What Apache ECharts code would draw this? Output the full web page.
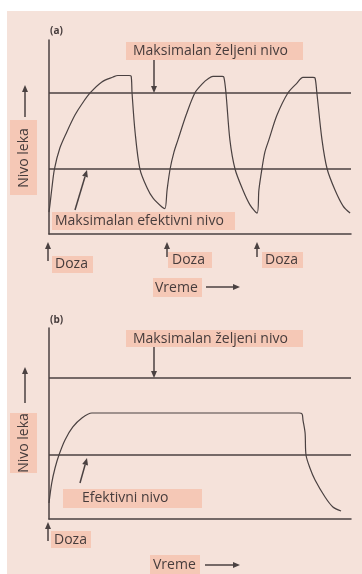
<!DOCTYPE html>
<html><head><meta charset="utf-8">
<script src="https://cdn.jsdelivr.net/npm/echarts@6/dist/echarts.min.js"></script>
<style>html,body{margin:0;padding:0;background:#fff}#c{width:362px;height:574px}</style>
</head><body><div id="c"></div>
<script>
// Panel (a): drug level with repeated doses (time and level in relative units 0-100)
const timeA = [0,0.3,1.0,1.8,3.6,5.9,8.6,10.9,13.6,17.5,21.2,22.8,26.5,27.2,
  27.5,28.5,30.1,32.5,34.4,37.4,38.4,
  39.1,40.1,41.4,42.7,45.4,48.3,51.0,52.6,54.3,57.3,57.9,
  58.6,59.9,61.6,64.2,66.6,68.9,
  69.5,70.5,71.5,72.8,75.5,79.1,82.1,84.1,87.4,88.1,
  88.7,90.4,92.1,94.7,97.4,99.7];
const levelA = [11.3,14.9,24.2,33.5,44.3,52.6,61.3,67.0,72.7,78.4,80.9,81.7,81.7,81.4,
  72.7,52.6,33.5,23.7,18.6,13.9,13.1,
  22.7,33.5,42.3,48.5,61.3,72.7,77.8,79.9,81.2,81.2,80.9,
  72.7,48.5,33.5,22.7,14.9,10.8,
  22.7,33.5,42.3,48.5,61.3,72.7,77.8,80.7,80.7,80.4,
  72.7,48.5,33.5,22.7,14.4,10.8];
// Panel (b): drug level with a single sustained dose
const timeB = [0,0.9,2.0,3.3,5.3,7.9,10.9,14.2,16.9,82.8,83.8,84.1,84.8,85.1,86.4,88.1,91.4,94.0,96.7];
const levelB = [8.4,18.8,26.7,33.5,41.4,48.2,52.9,55.5,55.5,55.5,55.0,51.8,45.0,33.5,26.7,20.4,11.5,6.3,4.2];
// Reference levels: [maximum desired, effective]
const refLevelsA = [72.7, 33.5];
const refLevelsB = [73.8, 33.5];

const BG = '#f5e2da', BOX = '#f5c8b6', INK = '#463c3c', LINE = '#4a4141';
const FONT = '"Open Sans", "DejaVu Sans", sans-serif';

function pairs(xs, ys) { return xs.map((x, i) => [x, ys[i]]); }

function box(x, y, w, h) {
  return { type: 'rect', shape: { x, y, width: w, height: h }, style: { fill: BOX }, z: 1 };
}
function label(text, x, y, size, align, weight) {
  return { type: 'text', x, y, z: 3,
    style: { text, fill: INK, font: (weight || 'normal') + ' ' + (size || 14) + 'px ' + FONT,
      align: align || 'left', verticalAlign: 'middle' } };
}
function arrow(x1, y1, x2, y2) {
  const a = Math.atan2(y2 - y1, x2 - x1), L = 7, W = 3;
  const bx = x2 - L * Math.cos(a), by = y2 - L * Math.sin(a);
  const px = -Math.sin(a) * W, py = Math.cos(a) * W;
  return [
    { type: 'line', z: 3, shape: { x1, y1, x2: bx, y2: by }, style: { stroke: LINE, lineWidth: 1.5 } },
    { type: 'polygon', z: 3, shape: { points: [[x2, y2], [bx + px, by + py], [bx - px, by - py]] }, style: { fill: LINE } }
  ];
}

const graphic = [
  { type: 'rect', shape: { x: 0, y: 0, width: 362, height: 11 }, style: { fill: '#fff' }, z: 5 },
  { type: 'rect', shape: { x: 0, y: 0, width: 7, height: 574 }, style: { fill: '#fff' }, z: 5 },
  // panel (a)
  label('(a)', 50, 31, 10, 'left', 'bold'),
  box(126, 42, 177, 18), label('Maksimalan željeni nivo', 133, 51),
  ...arrow(154, 60, 154, 93),
  box(52, 212, 183, 18), label('Maksimalan efektivni nivo', 55, 221),
  ...arrow(75, 210, 87, 170),
  ...arrow(48, 261, 48, 242), box(52, 256, 41, 17), label('Doza', 55, 264),
  ...arrow(167, 257, 167, 242), box(168, 252, 44, 16), label('Doza', 172, 260),
  ...arrow(257, 257, 257, 242), box(262, 252, 41, 16), label('Doza', 265, 260),
  box(153, 278, 49, 19), label('Vreme', 155, 288),
  ...arrow(206, 287, 240, 287),
  box(10, 120, 27, 75),
  { type: 'text', x: 24, y: 158, rotation: Math.PI / 2, z: 3,
    style: { text: 'Nivo leka', fill: INK, font: '14px ' + FONT, align: 'center', verticalAlign: 'middle' } },
  ...arrow(25, 117, 25, 85),
  // panel (b)
  label('(b)', 50, 320, 10, 'left', 'bold'),
  box(126, 330, 177, 17), label('Maksimalan željeni nivo', 133, 339),
  ...arrow(154, 347, 154, 378),
  box(63, 489, 139, 19), label('Efektivni nivo', 82, 498),
  ...arrow(80, 483, 87, 458),
  ...arrow(48, 541, 48, 522), box(51, 531, 40, 17), label('Doza', 54, 540),
  box(150, 555, 50, 19), label('Vreme', 153, 565),
  ...arrow(205, 565, 240, 565),
  box(10, 413, 27, 60),
  { type: 'text', x: 24, y: 443, rotation: Math.PI / 2, z: 3,
    style: { text: 'Nivo leka', fill: INK, font: '14px ' + FONT, align: 'center', verticalAlign: 'middle' } },
  ...arrow(25, 403, 25, 367)
];

function valueAxis(gridIndex) {
  return { type: 'value', gridIndex, min: 0, max: 100,
    axisLine: { show: true, lineStyle: { color: LINE, width: 1.5 } },
    axisTick: { show: false }, axisLabel: { show: false }, splitLine: { show: false } };
}
function refLines(levels) {
  return { silent: true, symbol: 'none', label: { show: false },
    lineStyle: { color: LINE, width: 1.5, type: 'solid' },
    data: levels.map(v => ({ yAxis: v })) };
}

const chart = echarts.init(document.getElementById('c'), null, { renderer: 'canvas' });
chart.setOption({
  backgroundColor: BG,
  animation: false,
  grid: [
    { left: 49, top: 40, width: 302, height: 194 },
    { left: 49, top: 328, width: 302, height: 191 }
  ],
  xAxis: [valueAxis(0), valueAxis(1)],
  yAxis: [valueAxis(0), valueAxis(1)],
  series: [
    { type: 'line', xAxisIndex: 0, yAxisIndex: 0, data: pairs(timeA, levelA),
      showSymbol: false, smooth: 0.3,
      lineStyle: { color: LINE, width: 1.2 }, markLine: refLines(refLevelsA) },
    { type: 'line', xAxisIndex: 1, yAxisIndex: 1, data: pairs(timeB, levelB),
      showSymbol: false, smooth: 0.3,
      lineStyle: { color: LINE, width: 1.2 }, markLine: refLines(refLevelsB) }
  ],
  graphic
});
</script></body></html>
